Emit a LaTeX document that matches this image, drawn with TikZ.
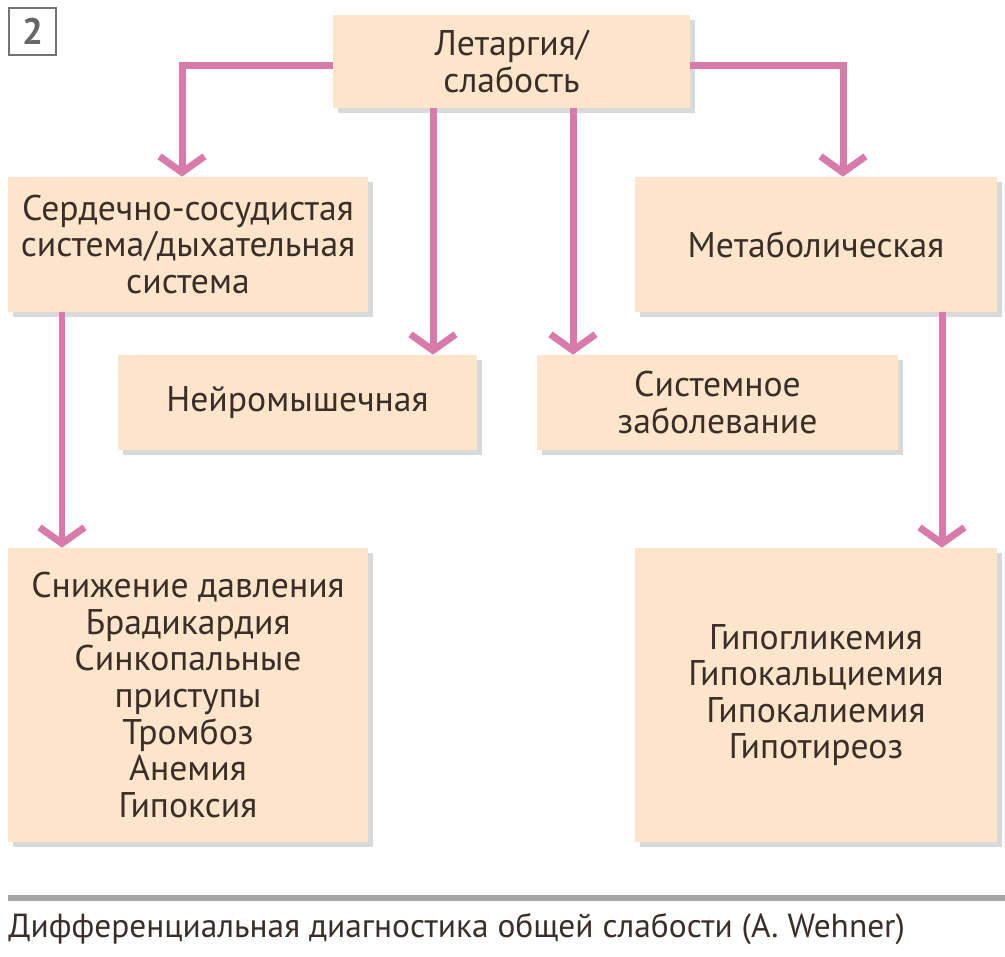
\documentclass[tikz,border=0pt]{standalone}
\usepackage{fontspec}
\setmainfont{PT Sans}
\usetikzlibrary{arrows.meta,shadows}
\definecolor{boxfill}{HTML}{FDE5CC}
\definecolor{arrowpink}{HTML}{D87BAA}
\definecolor{inkbrown}{HTML}{3A2E28}
\tikzset{
  card/.style={fill=boxfill,draw=none,text=inkbrown,align=center,
    drop shadow={shadow xshift=3pt,shadow yshift=-3pt,opacity=0.3,fill=gray},
    font=\fontsize{20.3}{20.8}\selectfont,inner sep=0pt},
  link/.style={draw=arrowpink,line width=0.14cm,
    -{Straight Barb[length=0.32cm,width=0.9cm]}}
}
\begin{document}
\begin{tikzpicture}[x=0.02cm,y=-0.02cm]
\useasboundingbox (0,0) rectangle (1005,957);
% boxes
\node[card,minimum width=7.14cm,minimum height=1.86cm] (top) at (511.5,61.5) {Летаргия/\\слабость};
\node[card,minimum width=7.2cm,minimum height=2.7cm] (cardio) at (188,244.5) {Сердечно-сосудистая\\система/дыхательная\\система};
\node[card,minimum width=7.24cm,minimum height=2.7cm] (metab) at (816,244.5) {Метаболическая};
\node[card,minimum width=7.18cm,minimum height=1.9cm] (neuro) at (297.5,402.5) {Нейромышечная};
\node[card,minimum width=7.22cm,minimum height=1.9cm] (syst) at (717.5,402.5) {Системное\\заболевание};
\node[card,minimum width=7.2cm,minimum height=5.88cm] (cardlist) at (188,695)
  {Снижение давления\\Брадикардия\\Синкопальные\\приступы\\Тромбоз\\Анемия\\Гипоксия};
\node[card,minimum width=7.24cm,minimum height=5.88cm] (metlist) at (816,695)
  {Гипогликемия\\Гипокальциемия\\Гипокалиемия\\Гипотиреоз};
\node[draw=gray!90!black,line width=1.5pt,minimum size=0.94cm,inner sep=0pt,text=gray!80!black,
  font=\fontsize{21}{21}\bfseries\selectfont] (num) at (32.5,31.5) {2};
% connectors
\draw[link] (top.west |- 0,65) -| (cardio.north -| 182,0);
\draw[link] (top.east |- 0,65) -| (metab.north -| 843,0);
\draw[link] (top.south -| 433,0) -- (neuro.north -| 433,0);
\draw[link] (top.south -| 573,0) -- (syst.north -| 573,0);
\draw[link] (cardio.south -| 62,0) -- (cardlist.north -| 62,0);
\draw[link] (metab.south -| 942,0) -- (metlist.north -| 942,0);
% caption
\draw[gray!70,line width=0.12cm] (8,898) -- (1005,898);
\node[anchor=west,text=inkbrown,font=\fontsize{19}{20}\selectfont,inner sep=0pt] (caption) at (8,929)
  {Дифференциальная диагностика общей слабости (A. Wehner)};
\end{tikzpicture}
\end{document}
